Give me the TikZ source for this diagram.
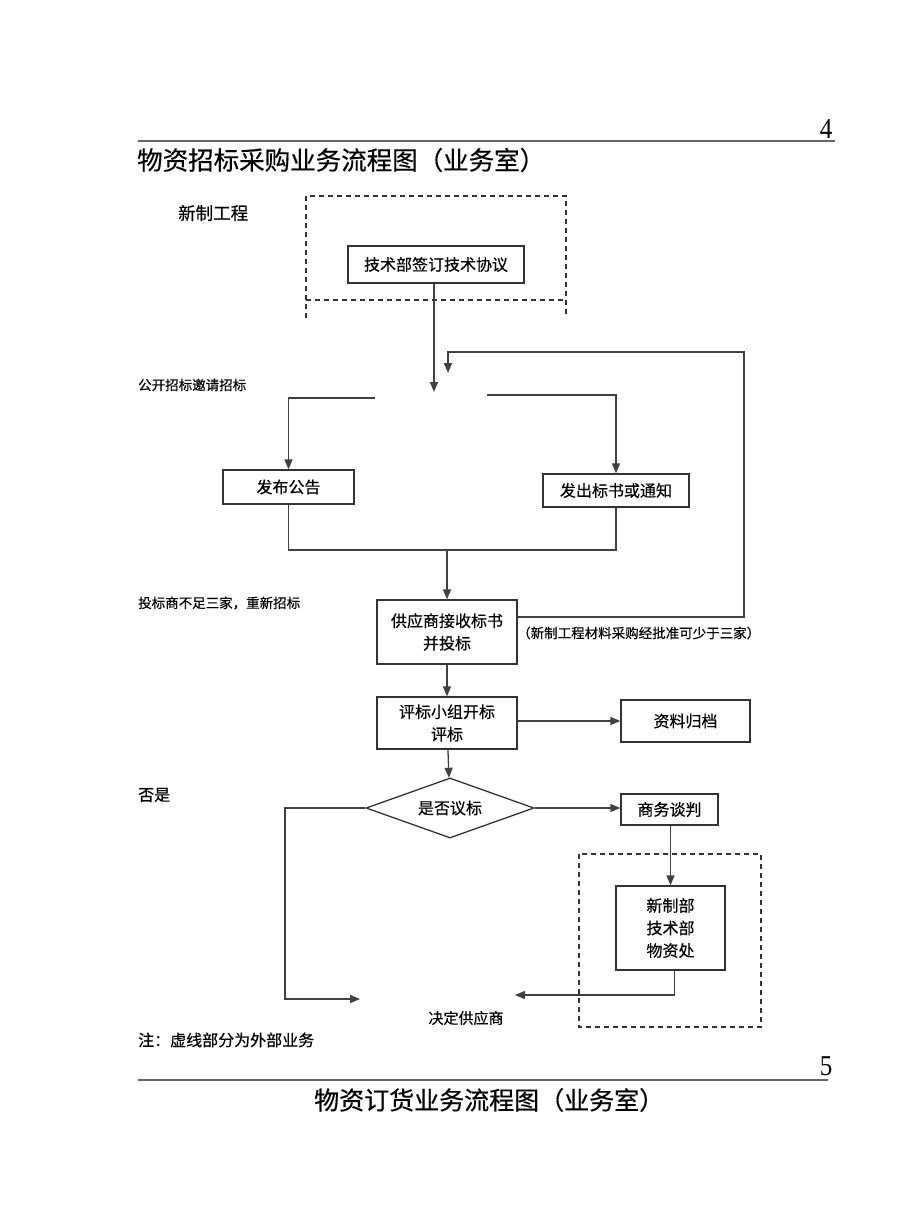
\documentclass[tikz,border=0pt]{standalone}
\usepackage{fontspec}
\setmainfont{Noto Sans CJK SC}[FakeBold=0.4]
\newfontfamily\numfont{Liberation Serif}
\usetikzlibrary{arrows.meta,shapes.geometric,positioning}

\begin{document}
\begin{tikzpicture}[x=1pt,y=-1pt,
  box/.style={draw=black!80,line width=1.3pt,align=center,inner sep=0pt,
    font=\fontsize{16}{22.5}\selectfont},
  xian/.style={draw=black!75,line width=1.3pt},
  jian/.style={xian,-{Triangle[length=10pt,width=8pt]}},
  xukuang/.style={draw=black!80,line width=1.2pt,dash pattern=on 5pt off 4pt},
  biaozhu/.style={anchor=west,inner sep=0pt,font=\fontsize{13.5}{16}\selectfont},
  shuoming/.style={anchor=west,inner sep=0pt,font=\fontsize{16}{19}\selectfont}]
  \useasboundingbox[fill=white] (0,0) rectangle (920,1227);

  % page rules and titles
  \draw[line width=2pt,black!60] (138,141) -- (835,141);
  \draw[line width=2pt,black!60] (138,1080) -- (828,1080);
  \node[inner sep=0pt,font=\numfont\fontsize{25}{28}\selectfont,yscale=1.15] (yema4) at (826,129) {4};
  \node[inner sep=0pt,font=\numfont\fontsize{25}{28}\selectfont,yscale=1.15] (yema5) at (826,1066) {5};
  \node[anchor=west,inner sep=0pt,font=\fontsize{25.5}{28}\selectfont] (biaoti) at (137,160) {物资招标采购业务流程图（业务室）};
  \node[anchor=west,inner sep=0pt,font=\fontsize{25}{28}\selectfont] (biaoti2) at (314,1100) {物资订货业务流程图（业务室）};

  % side notes
  \node[anchor=west,inner sep=0pt,font=\fontsize{17.5}{20}\selectfont] (xinzhi) at (178,213) {新制工程};
  \node[biaozhu] (gongkai) at (138,385) {公开招标邀请招标};
  \node[biaozhu] (buzu) at (138,603) {投标商不足三家，重新招标};
  \node[shuoming] (foushi) at (138,795) {否是};
  \node[shuoming] (zhu) at (138,1040) {注：虚线部分为外部业务};

  % dashed outer parts
  \draw[xukuang] (306,318) -- (306,196) -- (566,196) -- (566,318);
  \draw[xukuang] (306,300) -- (566,300);
  \draw[xukuang] (579,854) rectangle (761,1027);

  % steps
  \node[box,minimum width=176pt,minimum height=37pt] (xieyi) at (436,264.5) {技术部签订技术协议};
  \node[box,minimum width=131pt,minimum height=34pt] (gonggao) at (288.5,487) {发布公告};
  \node[box,minimum width=146pt,minimum height=33pt] (biaoshu) at (616,490.5) {发出标书或通知};
  \node[box,minimum width=140pt,minimum height=64pt] (toubiao) at (447,632) {供应商接收标书\\并投标};
  \node[biaozhu] (shaoyu) at (517,633) {（新制工程材料采购经批准可少于三家）};
  \node[box,minimum width=140pt,minimum height=52pt] (pingbiao) at (447,723) {评标小组开标\\评标};
  \node[box,minimum width=129pt,minimum height=42pt] (guidang) at (685.5,721) {资料归档};
  \node[draw=black!85,line width=1.2pt,diamond,aspect=2.8,minimum width=168pt,minimum height=60pt,
    inner sep=0pt,font=\fontsize{16}{19}\selectfont] (yibiao) at (450,808) {是否议标};
  \node[box,minimum width=97pt,minimum height=31pt] (tanpan) at (669.5,809.5) {商务谈判};
  \node[box,minimum width=109pt,minimum height=84pt] (bumen) at (670.5,928) {新制部\\技术部\\物资处};
  \node[inner sep=0pt,font=\fontsize{15}{18}\selectfont] (jueding) at (466,1018) {决定供应商};

  \coordinate (zhaobiao) at (434,392);
  \coordinate (zbl) at (375,398);
  \coordinate (zbr) at (487,395);
  \coordinate (fanhui) at (448,373);
  \coordinate (huizong) at (447,550);
  \coordinate (jdl) at (360,999);
  \coordinate (jdr) at (515,995);

  % connectors
  \draw[jian] (xieyi.south -| zhaobiao) -- (zhaobiao);
  \draw[jian] (zbl) -| (gonggao.north);
  \draw[jian] (zbr) -| (biaoshu.north);
  \draw[xian] (gonggao.south) |- (huizong) -| (biaoshu.south);
  \draw[jian] (huizong) -- (toubiao.north);
  \draw[jian] (toubiao.east |- 0,617) -- (744,617) -- (744,352) -| (fanhui);
  \draw[jian] (toubiao) -- (pingbiao);
  \draw[jian] (pingbiao.east |- guidang.west) -- (guidang.west);
  \draw[jian] (pingbiao) -- (yibiao);
  \draw[jian] (yibiao.east) -- (yibiao.east -| tanpan.west);
  \draw[jian] (tanpan.south -| bumen.north) -- (bumen.north);
  \draw[jian] (yibiao.west) -- (285,808) |- (jdl);
  \draw[jian] ([xshift=4pt]bumen.south) |- (jdr);
\end{tikzpicture}
\end{document}
